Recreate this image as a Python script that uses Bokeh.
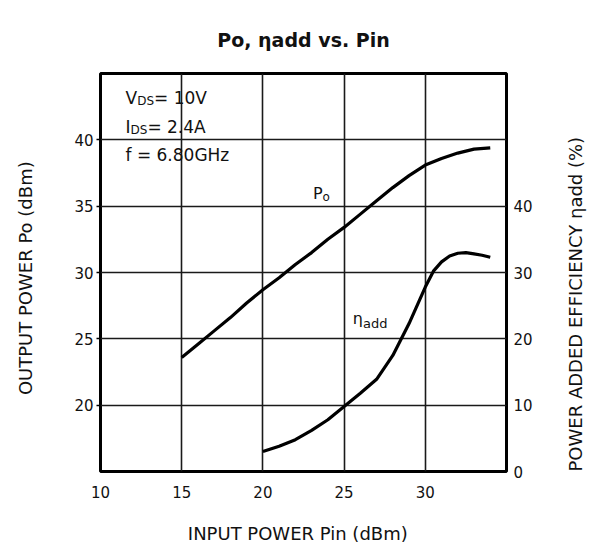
import math
from bokeh.plotting import figure
from bokeh.models import Range1d, LinearAxis, FixedTicker, Label
from bokeh.embed import file_html
from bokeh.resources import INLINE

# ---- data ----
pin_po = [15, 16, 17, 18, 19, 20, 21, 22, 23, 24, 25, 26, 27, 28, 29, 30, 31, 32, 33, 34]
po_dbm = [23.6, 24.6, 25.6, 26.6, 27.7, 28.7, 29.6, 30.6, 31.5, 32.5, 33.4, 34.4,
          35.4, 36.4, 37.3, 38.1, 38.6, 39.0, 39.3, 39.4]
pin_eff = [20, 21, 22, 23, 24, 25, 26, 27, 28, 29, 30, 30.5, 31, 31.5, 32, 32.5, 33, 33.5, 34]
eff_pct = [3.0, 3.8, 4.8, 6.2, 7.8, 9.8, 11.8, 13.9, 17.5, 22.3, 27.8, 30.2, 31.6,
           32.5, 32.9, 33.0, 32.8, 32.6, 32.3]
x_ticks = [10, 15, 20, 25, 30]
x_grid = [15, 20, 25, 30]
po_ticks = [20, 25, 30, 35, 40]
eff_ticks = [0, 10, 20, 30, 40]

FONT = "DejaVu Sans"
INK = "#111111"

# DejaVu Sans advance widths (per 1000 em)
DV = {' ': 318, '(': 390, ')': 390, '%': 950, ',': 318, '.': 318, '=': 838,
      'A': 684, 'B': 686, 'C': 698, 'D': 770, 'E': 632, 'F': 575, 'G': 775, 'H': 752,
      'I': 295, 'N': 748, 'O': 787, 'P': 603, 'R': 695, 'S': 635, 'T': 611, 'U': 732,
      'V': 684, 'W': 989, 'Y': 611, 'a': 613, 'd': 635, 'f': 352, 'i': 278, 'm': 974,
      'n': 634, 'o': 612, 's': 521, 'v': 592, 'z': 525, 'η': 634}
for ch in "0123456789":
    DV[ch] = 636


def tw(s, size):
    return sum(DV.get(c, 620) for c in s) / 1000.0 * size


p = figure(width=600, height=554, x_range=Range1d(10, 35), y_range=Range1d(15, 45),
           output_backend="svg", toolbar_location=None,
           min_border_left=100, min_border_right=94, min_border_top=73, min_border_bottom=83)
p.extra_y_ranges = {"eff": Range1d(0, 60)}
p.background_fill_color = "white"
p.border_fill_color = "white"
p.outline_line_color = "black"
p.outline_line_width = 3

# title
p.title.text = "Po, ηadd vs. Pin"
p.title.align = "center"
p.title.offset = 7
p.title.text_font = FONT
p.title.text_font_size = "19px"
p.title.text_font_style = "bold"
p.title.text_color = INK
p.title.standoff = 46

# grid
p.xgrid.ticker = FixedTicker(ticks=x_grid)
p.ygrid.ticker = FixedTicker(ticks=po_ticks)
for g in (p.xgrid, p.ygrid):
    g.grid_line_color = "#1a1a1a"
    g.grid_line_width = 1.6

# axes
p.xaxis.ticker = FixedTicker(ticks=x_ticks)
p.yaxis.ticker = FixedTicker(ticks=po_ticks)
right = LinearAxis(y_range_name="eff", ticker=FixedTicker(ticks=eff_ticks))
p.add_layout(right, "right")
for ax in (p.xaxis[0], p.yaxis[0], right):
    ax.axis_line_color = None
    ax.minor_tick_line_color = None
    ax.major_label_text_font = FONT
    ax.major_label_text_font_size = "15px"
    ax.major_label_text_color = INK
    ax.major_tick_line_color = "black"
    ax.major_tick_line_width = 1.5
    ax.axis_label_text_font = FONT
    ax.axis_label_text_font_size = "18px"
    ax.axis_label_text_font_style = "normal"
    ax.axis_label_text_color = INK
p.xaxis.major_tick_out = 0
p.xaxis.major_tick_in = 0
p.xaxis.major_label_standoff = 14
p.xaxis.axis_label = "INPUT POWER  Pin  (dBm)"
p.xaxis.axis_label_standoff = 22
p.yaxis.major_tick_out = 4
p.yaxis.major_tick_in = 0
p.yaxis.major_label_standoff = 3
p.yaxis.axis_label = "OUTPUT POWER  Po  (dBm)"
p.yaxis.axis_label_standoff = 35
right.major_tick_out = 0
right.major_tick_in = 0
right.major_label_standoff = 7
right.axis_label = "POWER ADDED EFFICIENCY  ηadd  (%)"
right.axis_label_standoff = 40
# read bottom-to-top, starting at the bottom of the axis
try:
    right.axis_label_align = "start"
    right.axis_label_orientation = math.pi / 2
except Exception:
    pass

# curves
p.line(pin_po, po_dbm, line_width=3.2, line_color="black")
p.line(pin_eff, eff_pct, y_range_name="eff", line_width=3.2, line_color="black")


# ---- in-plot text with subscripts built from pieces ----
def rich(x, y, pieces):
    adv = 0.0
    for text, size, shift in pieces:
        p.add_layout(Label(x=x, y=y, x_offset=adv, y_offset=-shift, text=text,
                           text_font=FONT, text_font_size=f"{size}px",
                           text_color=INK, text_align="left",
                           text_baseline="alphabetic"))
        adv += tw(text, size)


# conditions
rich(11.54, 43.12, [("V", 17, 0), ("DS", 12, 3), ("= 10V", 17, 0)])
rich(11.54, 40.93, [("I", 17, 0), ("DS", 12, 3), ("= 2.4A", 17, 0)])
rich(11.54, 38.82, [("f = 6.80GHz", 17, 0)])

# curve labels
rich(23.08, 35.96, [("P", 16, 0), ("o", 12, 4)])
rich(25.54, 26.54, [("η", 16, 0), ("add", 13, 5)])

open("out.html", "w").write(file_html(p, INLINE))
